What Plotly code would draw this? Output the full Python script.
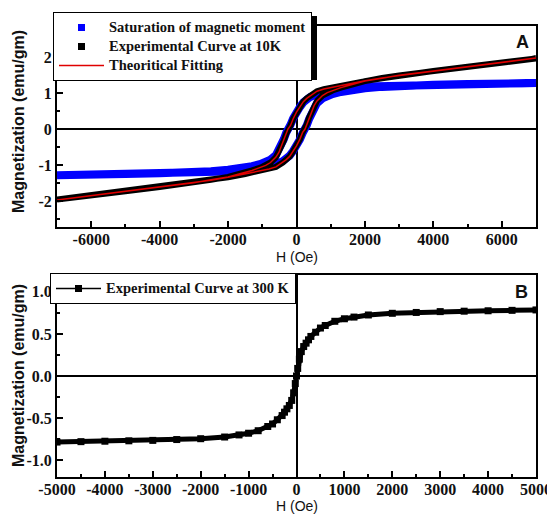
import plotly.graph_objects as go

# ---------------- Panel A data (10 K hysteresis) ----------------
H_desc = [7000, 6000, 5000, 4000, 3000, 2500, 2000, 1500, 1200, 1000, 800, 600, 400, 300, 200, 100, 0,
          -100, -175, -250, -300, -370, -450, -515, -600, -760, -900, -1050, -1300, -1600, -2000,
          -2500, -3000, -4000, -5000, -6000, -7000]
H_asc = [-7000, -6000, -5000, -4000, -3000, -2500, -2000, -1500, -1200, -1000, -800, -600, -400, -300,
         -200, -100, 0, 100, 175, 250, 300, 370, 450, 515, 600, 760, 900, 1050, 1300, 1600, 2000,
         2500, 3000, 4000, 5000, 6000, 7000]

exp10_desc = [1.96, 1.85, 1.73, 1.61, 1.49, 1.42, 1.34, 1.25, 1.19, 1.15, 1.11, 1.05, 0.93, 0.85, 0.76,
              0.62, 0.47, 0.28, 0.10, 0.00, -0.13, -0.32, -0.50, -0.65, -0.78, -0.93, -1.01, -1.07,
              -1.15, -1.23, -1.33, -1.41, -1.49, -1.61, -1.73, -1.85, -1.96]
exp10_asc = [-1.96, -1.85, -1.73, -1.61, -1.49, -1.42, -1.34, -1.25, -1.19, -1.15, -1.11, -1.05, -0.93,
             -0.85, -0.76, -0.62, -0.47, -0.28, -0.10, 0.00, 0.13, 0.32, 0.50, 0.65, 0.78, 0.93, 1.01,
             1.07, 1.15, 1.23, 1.33, 1.41, 1.49, 1.61, 1.73, 1.85, 1.96]

fit_desc = [1.97, 1.85, 1.73, 1.61, 1.49, 1.42, 1.34, 1.25, 1.19, 1.15, 1.11, 1.05, 0.93, 0.85, 0.76,
            0.62, 0.47, 0.28, 0.10, 0.00, -0.13, -0.32, -0.50, -0.65, -0.78, -0.93, -1.01, -1.07,
            -1.15, -1.23, -1.33, -1.41, -1.49, -1.61, -1.73, -1.85, -1.97]
fit_asc = [-1.97, -1.85, -1.73, -1.61, -1.49, -1.42, -1.34, -1.25, -1.19, -1.15, -1.11, -1.05, -0.93,
           -0.85, -0.76, -0.62, -0.47, -0.28, -0.10, 0.00, 0.13, 0.32, 0.50, 0.65, 0.78, 0.93, 1.01,
           1.07, 1.15, 1.23, 1.33, 1.41, 1.49, 1.61, 1.73, 1.85, 1.97]

sat_desc = [1.28, 1.27, 1.26, 1.25, 1.23, 1.21, 1.18, 1.13, 1.09, 1.06, 1.02, 0.97, 0.89, 0.82, 0.74,
            0.61, 0.47, 0.29, 0.12, 0.02, -0.10, -0.28, -0.45, -0.60, -0.72, -0.85, -0.92, -0.97,
            -1.03, -1.08, -1.13, -1.17, -1.20, -1.23, -1.25, -1.26, -1.27]
sat_asc = [-1.28, -1.27, -1.26, -1.25, -1.23, -1.21, -1.18, -1.13, -1.09, -1.06, -1.02, -0.97, -0.89,
           -0.82, -0.74, -0.61, -0.47, -0.29, -0.12, -0.02, 0.10, 0.28, 0.45, 0.60, 0.72, 0.85, 0.92,
           0.97, 1.03, 1.08, 1.13, 1.17, 1.20, 1.23, 1.25, 1.26, 1.27]

# ---------------- Panel B data (300 K) ----------------
H_300 = [-5000, -4500, -4000, -3500, -3000, -2500, -2000, -1500, -1200, -1000, -800, -600, -500, -400,
         -300, -250, -200, -150, -100, -60, -25, 0, 25, 60, 100, 150, 200, 250, 300, 400, 500, 600,
         800, 1000, 1200, 1500, 2000, 2500, 3000, 3500, 4000, 4500, 5000]
M_300 = [-0.785, -0.78, -0.775, -0.77, -0.765, -0.755, -0.745, -0.725, -0.70, -0.68, -0.65, -0.60, -0.57,
         -0.52, -0.47, -0.43, -0.39, -0.35, -0.29, -0.20, -0.09, 0.0, 0.09, 0.20, 0.29, 0.35, 0.39,
         0.43, 0.47, 0.52, 0.57, 0.60, 0.65, 0.68, 0.70, 0.725, 0.745, 0.755, 0.765, 0.77, 0.775,
         0.78, 0.785]

# ---------------- tick labels ----------------
xA_ticks = [-6000, -4000, -2000, 0, 2000, 4000, 6000]
xA_text = ["-6000", "-4000", "-2000", "0", "2000", "4000", "6000"]
yA_ticks = [-2, -1, 0, 1, 2]
yA_text = ["-2", "-1", "0", "1", "2"]
xB_ticks = [-5000, -4000, -3000, -2000, -1000, 0, 1000, 2000, 3000, 4000, 5000]
xB_text = ["-5000", "-4000", "-3000", "-2000", "-1000", "0", "1000", "2000", "3000", "4000", "5000"]
yB_ticks = [-1.0, -0.5, 0.0, 0.5, 1.0]
yB_text = ["-1.0", "-0.5", "0.0", "0.5", "1.0"]

# page body has an 8px margin; figure is sized to fit the 555x516 window
OFF = 8
W, Hh = 555 - OFF, 516 - OFF


def px(x):
    return (x - OFF) / W


def py(y):
    return (516 - y) / Hh


def leg(s):
    return '<span style="font-size:14.5px">' + s + '</span>'


serif_b = dict(family="Liberation Serif", size=16, color="#111", weight="bold")
title_font = dict(family="Liberation Sans", size=16, color="#111", weight="bold")
xtitle_font = dict(family="Liberation Sans", size=14, color="#111")

fig = go.Figure()

# Panel A traces
fig.add_trace(go.Scatter(x=H_desc + H_asc, y=sat_desc + sat_asc, mode="lines",
                         line=dict(color="#0000ff", width=8), showlegend=False,
                         xaxis="x", yaxis="y"))
fig.add_trace(go.Scatter(x=H_desc + H_asc, y=exp10_desc + exp10_asc, mode="lines",
                         line=dict(color="#000000", width=6), showlegend=False,
                         xaxis="x", yaxis="y"))
fig.add_trace(go.Scatter(x=H_desc + H_asc, y=fit_desc + fit_asc, mode="lines",
                         line=dict(color="#e00000", width=1.5), showlegend=False,
                         xaxis="x", yaxis="y"))
# legend entries for panel A
fig.add_trace(go.Scatter(x=[None], y=[None], mode="markers", name=leg("Saturation of magnetic moment"),
                         marker=dict(symbol="square", color="#0000ff", size=7),
                         xaxis="x", yaxis="y", legend="legend"))
fig.add_trace(go.Scatter(x=[None], y=[None], mode="markers", name=leg("Experimental Curve at 10K"),
                         marker=dict(symbol="square", color="#000000", size=7),
                         xaxis="x", yaxis="y", legend="legend"))
fig.add_trace(go.Scatter(x=[None], y=[None], mode="lines", name=leg("Theoritical Fitting"),
                         line=dict(color="#e00000", width=1.5),
                         xaxis="x", yaxis="y", legend="legend"))

# Panel B traces
fig.add_trace(go.Scatter(x=H_300, y=M_300, mode="lines+markers",
                         line=dict(color="#000000", width=5),
                         marker=dict(symbol="square", color="#000000", size=7),
                         showlegend=False, xaxis="x2", yaxis="y2"))
fig.add_trace(go.Scatter(x=[None], y=[None], mode="lines+markers", name=leg("Experimental Curve at 300 K"),
                         line=dict(color="#000000", width=1.5),
                         marker=dict(symbol="square", color="#000000", size=7),
                         xaxis="x2", yaxis="y2", legend="legend2"))

xdom = [px(57), px(536)]
axis_common = dict(showline=True, linewidth=2, linecolor="black", mirror=True, showgrid=False,
                   ticks="inside", ticklen=6, tickwidth=1.5, tickcolor="black",
                   tickfont=serif_b, zeroline=True, zerolinecolor="black", zerolinewidth=1.5,
                   tickmode="array", automargin=False)
minor_common = dict(ticks="inside", ticklen=3, tickwidth=1.5, tickcolor="black", tick0=0)

legend_font = dict(family="Liberation Serif", size=12, color="#111", weight="bold")

# legend drop shadows (Origin style), offset 4px right/down from the legend boxes
shadows = [(57, 16, 317, 80), (54, 277, 291, 298)]
shapes = [dict(type="rect", xref="paper", yref="paper", x0=px(a), x1=px(c), y0=py(d), y1=py(b),
               fillcolor="black", line=dict(width=0), layer="above") for a, b, c, d in shadows]

fig.update_layout(
    width=W, height=Hh, margin=dict(l=0, r=0, t=0, b=0, pad=0, autoexpand=False),
    paper_bgcolor="white", plot_bgcolor="white",
    xaxis=dict(axis_common, domain=xdom, anchor="y", range=[-7000, 7000],
               tickvals=xA_ticks, ticktext=xA_text, ticklabelstandoff=-3,
               minor=dict(minor_common, dtick=1000)),
    yaxis=dict(axis_common, domain=[py(227), py(26)], anchor="x", range=[-2.72, 2.86],
               tickvals=yA_ticks, ticktext=yA_text, minor=dict(minor_common, dtick=0.5)),
    xaxis2=dict(axis_common, domain=xdom, anchor="y2", range=[-5000, 5000],
                tickvals=xB_ticks, ticktext=xB_text, ticklabelstandoff=-3,
                minor=dict(minor_common, dtick=500)),
    yaxis2=dict(axis_common, domain=[py(477), py(275)], anchor="x2", range=[-1.2, 1.2],
                tickvals=yB_ticks, ticktext=yB_text, minor=dict(minor_common, dtick=0.25)),
    legend=dict(x=px(53), y=py(12), xanchor="left", yanchor="top", itemwidth=45,
                bgcolor="white", bordercolor="black", borderwidth=1,
                font=legend_font, tracegroupgap=0),
    legend2=dict(x=px(50), y=py(273), xanchor="left", yanchor="top", itemwidth=45,
                 bgcolor="white", bordercolor="black", borderwidth=1, font=legend_font),
    shapes=shapes,
    annotations=[
        dict(text="A", xref="paper", yref="paper", x=px(522), y=py(42), showarrow=False,
             xanchor="center", yanchor="middle",
             font=dict(family="Liberation Sans", size=18, color="#111", weight="bold")),
        dict(text="B", xref="paper", yref="paper", x=px(521), y=py(292), showarrow=False,
             xanchor="center", yanchor="middle",
             font=dict(family="Liberation Sans", size=18, color="#111", weight="bold")),
        dict(text="Magnetization (emu/gm)", xref="paper", yref="paper", x=px(18), y=py(122),
             xanchor="center", yanchor="middle", textangle=-90, showarrow=False, font=title_font),
        dict(text="Magnetization (emu/gm)", xref="paper", yref="paper", x=px(18), y=py(376),
             xanchor="center", yanchor="middle", textangle=-90, showarrow=False, font=title_font),
        dict(text="H (Oe)", xref="paper", yref="paper", x=px(297), y=py(257), showarrow=False,
             xanchor="center", yanchor="middle", font=xtitle_font),
        dict(text="H (Oe)", xref="paper", yref="paper", x=px(297), y=py(506), showarrow=False,
             xanchor="center", yanchor="middle", font=xtitle_font),
    ],
)

fig.write_html("out.html")
